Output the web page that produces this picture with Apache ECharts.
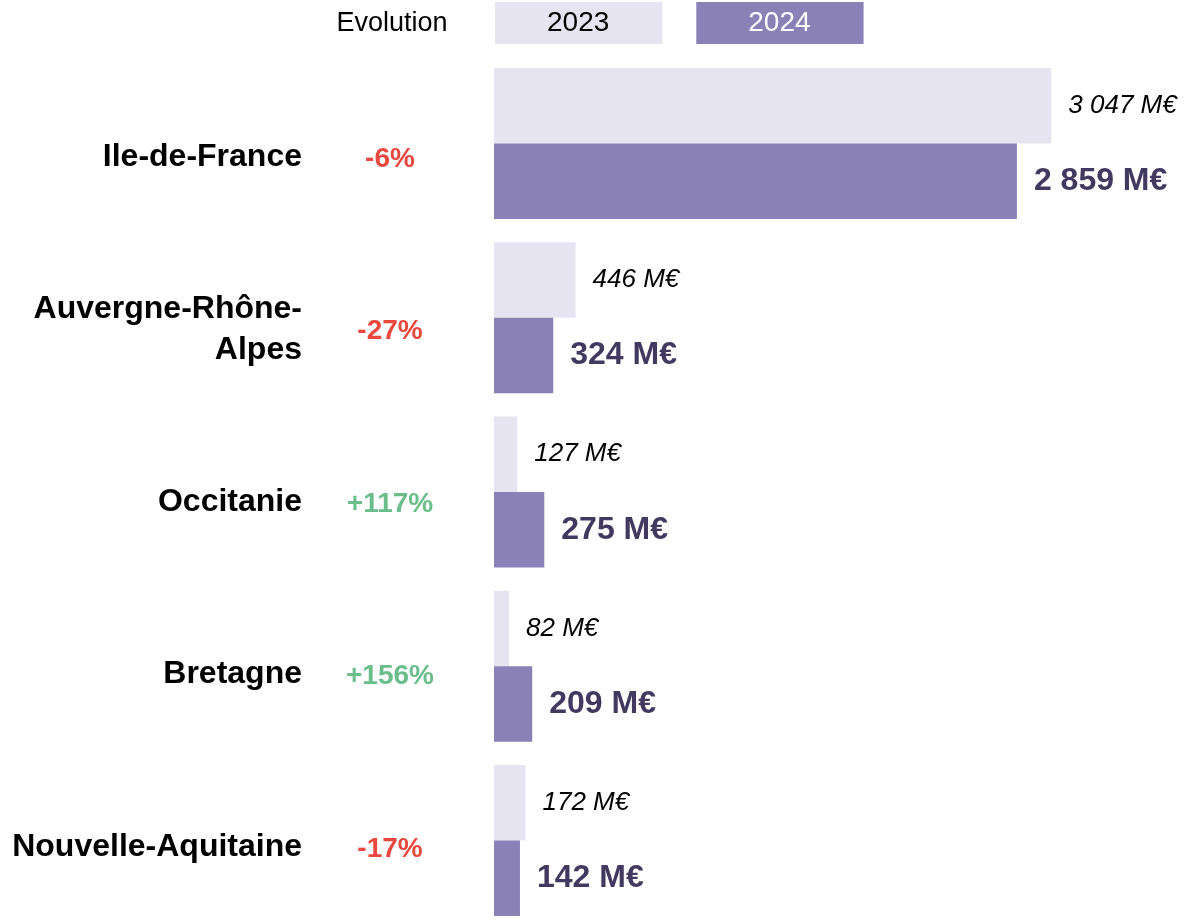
<!DOCTYPE html>
<html>
<head>
<meta charset="utf-8">
<script src="https://cdn.jsdelivr.net/npm/echarts@6/dist/echarts.min.js"></script>
<style>
  html, body { margin: 0; padding: 0; background: #fff; overflow: hidden; }
  /* un peu plus haut que la fenêtre : la dernière bande déborde légèrement */
  #chart { width: 1204px; height: 960px; }
</style>
</head>
<body>
<div id="chart"></div>
<script>
// régions (de haut en bas)
var regions = ["Ile-de-France", "Auvergne-Rhône-\nAlpes", "Occitanie", "Bretagne", "Nouvelle-Aquitaine"];
var evolution = ["-6%", "-27%", "+117%", "+156%", "-17%"];
var values2023 = [3047, 446, 127, 82, 172];
var values2024 = [2859, 324, 275, 209, 142];

var FONT = "'Liberation Sans', Arial, sans-serif";

function euros(v) {
  return String(v).replace(/\B(?=(\d{3})+(?!\d))/g, " ") + " M€";
}

var myChart = echarts.init(document.getElementById("chart"));

var option = {
  animation: false,
  textStyle: { fontFamily: FONT },
  graphic: [
    {
      type: "text",
      x: 392,
      y: 24,
      style: {
        text: "Evolution",
        fontFamily: FONT,
        fontSize: 27,
        fill: "#000",
        textAlign: "center",
        textVerticalAlign: "middle"
      }
    }
  ],
  legend: {
    left: 490,
    top: 2,
    padding: 0,
    itemGap: 29,
    itemWidth: 0,
    itemHeight: 0,
    selectedMode: false,
    icon: "rect",
    textStyle: {
      fontFamily: FONT,
      fontSize: 28,
      lineHeight: 32,
      padding: [5, 53, 5, 52]
    },
    data: [
      { name: "2023", textStyle: { backgroundColor: "#E6E4F0", color: "#000" } },
      { name: "2024", textStyle: { backgroundColor: "#8A82B6", color: "#fff" } }
    ]
  },
  // grille 0 : barres ; grille 1 : libellés (légèrement décalés vers le bas)
  grid: [
    { left: 494, right: 15, top: 56.4, height: 871.2 },
    { left: 494, right: 15, top: 71, height: 862 }
  ],
  xAxis: [
    { type: "value", gridIndex: 0, min: 0, max: 3800, show: false },
    { type: "value", gridIndex: 1, min: 0, max: 3800, show: false }
  ],
  yAxis: [
    {
      type: "category",
      gridIndex: 0,
      data: regions,
      inverse: true,
      show: false
    },
    {
      type: "category",
      gridIndex: 1,
      data: regions,
      inverse: true,
      axisLine: { show: false },
      axisTick: { show: false },
      axisLabel: {
        margin: 192,
        fontFamily: FONT,
        fontSize: 32,
        fontWeight: "bold",
        color: "#000",
        lineHeight: 41,
        align: "right"
      }
    },
    {
      type: "category",
      gridIndex: 1,
      data: evolution,
      inverse: true,
      position: "left",
      axisLine: { show: false },
      axisTick: { show: false },
      axisLabel: {
        margin: 104,
        align: "center",
        formatter: function (v) {
          return v.charAt(0) === "+" ? "{pos|" + v + "}" : "{neg|" + v + "}";
        },
        rich: {
          pos: { fontFamily: FONT, fontSize: 28, fontWeight: "bold", color: "#6BBE8B", padding: [4, 0, 0, 0] },
          neg: { fontFamily: FONT, fontSize: 28, fontWeight: "bold", color: "#E9483E", padding: [4, 0, 0, 0] }
        }
      }
    }
  ],
  series: [
    {
      name: "2023",
      type: "bar",
      xAxisIndex: 0,
      yAxisIndex: 0,
      barWidth: 75.5,
      barGap: "0%",
      itemStyle: { color: "#E6E4F0" },
      label: {
        show: true,
        position: "right",
        distance: 17,
        fontFamily: FONT,
        fontSize: 26,
        fontStyle: "italic",
        color: "#000",
        formatter: function (p) { return euros(p.value); }
      },
      data: values2023
    },
    {
      name: "2024",
      type: "bar",
      xAxisIndex: 0,
      yAxisIndex: 0,
      barWidth: 75.5,
      barGap: "0%",
      itemStyle: { color: "#8A82B6" },
      label: {
        show: true,
        position: "right",
        distance: 17,
        fontFamily: FONT,
        fontSize: 32,
        fontWeight: "bold",
        color: "#41395F",
        formatter: function (p) { return euros(p.value); }
      },
      data: values2024
    }
  ]
};

myChart.setOption(option);
</script>
</body>
</html>
